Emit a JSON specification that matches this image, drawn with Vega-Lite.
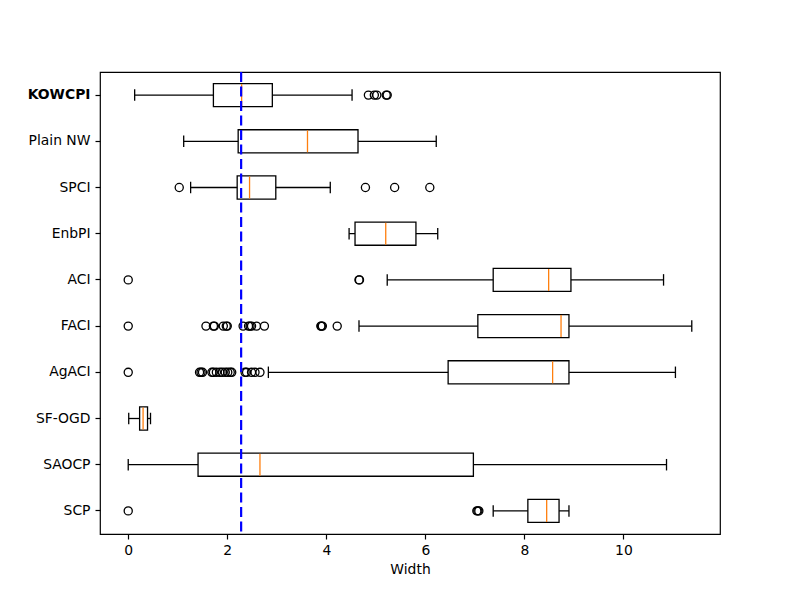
{
  "$schema": "https://vega.github.io/schema/vega-lite/v6.json",
  "width": 620,
  "height": 462,
  "autosize": {"type": "none"},
  "padding": {"left": 100, "top": 72, "right": 80, "bottom": 66},
  "background": "white",
  "config": {
    "view": {"stroke": "black", "strokeWidth": 1.2},
    "font": "DejaVu Sans",
    "axis": {
      "grid": false,
      "domain": false,
      "tickColor": "black",
      "tickSize": 5,
      "tickWidth": 1.2,
      "labelColor": "black",
      "labelFont": "DejaVu Sans",
      "labelFontSize": 13.9,
      "titleFont": "DejaVu Sans",
      "titleFontSize": 13.9,
      "titleFontWeight": "normal",
      "titleColor": "black"
    }
  },
  "datasets": {
    "stats": [
      {"method": "KOWCPI", "lo": 0.13, "q1": 1.72, "med": 2.29, "q3": 2.91, "hi": 4.52},
      {"method": "Plain NW", "lo": 1.12, "q1": 2.22, "med": 3.62, "q3": 4.64, "hi": 6.22},
      {"method": "SPCI", "lo": 1.26, "q1": 2.2, "med": 2.45, "q3": 2.98, "hi": 4.08},
      {"method": "EnbPI", "lo": 4.46, "q1": 4.58, "med": 5.2, "q3": 5.81, "hi": 6.25},
      {"method": "ACI", "lo": 5.23, "q1": 7.37, "med": 8.49, "q3": 8.94, "hi": 10.81},
      {"method": "FACI", "lo": 4.66, "q1": 7.06, "med": 8.74, "q3": 8.9, "hi": 11.38},
      {"method": "AgACI", "lo": 2.83, "q1": 6.46, "med": 8.57, "q3": 8.9, "hi": 11.05},
      {"method": "SF-OGD", "lo": 0.01, "q1": 0.23, "med": 0.3, "q3": 0.39, "hi": 0.45},
      {"method": "SAOCP", "lo": 0.0, "q1": 1.41, "med": 2.66, "q3": 6.97, "hi": 10.87},
      {"method": "SCP", "lo": 7.37, "q1": 8.07, "med": 8.45, "q3": 8.7, "hi": 8.9}
    ],
    "outliers": [
      {"method": "KOWCPI", "value": 4.85},
      {"method": "KOWCPI", "value": 4.97},
      {"method": "KOWCPI", "value": 5.02},
      {"method": "KOWCPI", "value": 5.21},
      {"method": "KOWCPI", "value": 5.23},
      {"method": "SPCI", "value": 1.03},
      {"method": "SPCI", "value": 4.79},
      {"method": "SPCI", "value": 5.38},
      {"method": "SPCI", "value": 6.09},
      {"method": "ACI", "value": 0.0},
      {"method": "ACI", "value": 4.66},
      {"method": "ACI", "value": 4.67},
      {"method": "FACI", "value": 0.0},
      {"method": "FACI", "value": 1.57},
      {"method": "FACI", "value": 1.72},
      {"method": "FACI", "value": 1.74},
      {"method": "FACI", "value": 1.92},
      {"method": "FACI", "value": 1.98},
      {"method": "FACI", "value": 2.0},
      {"method": "FACI", "value": 2.32},
      {"method": "FACI", "value": 2.43},
      {"method": "FACI", "value": 2.46},
      {"method": "FACI", "value": 2.49},
      {"method": "FACI", "value": 2.59},
      {"method": "FACI", "value": 2.75},
      {"method": "FACI", "value": 3.89},
      {"method": "FACI", "value": 3.9},
      {"method": "FACI", "value": 3.92},
      {"method": "FACI", "value": 4.22},
      {"method": "AgACI", "value": 0.0},
      {"method": "AgACI", "value": 1.44},
      {"method": "AgACI", "value": 1.47},
      {"method": "AgACI", "value": 1.5},
      {"method": "AgACI", "value": 1.69},
      {"method": "AgACI", "value": 1.72},
      {"method": "AgACI", "value": 1.78},
      {"method": "AgACI", "value": 1.85},
      {"method": "AgACI", "value": 1.9},
      {"method": "AgACI", "value": 1.96},
      {"method": "AgACI", "value": 2.01},
      {"method": "AgACI", "value": 2.06},
      {"method": "AgACI", "value": 2.09},
      {"method": "AgACI", "value": 2.36},
      {"method": "AgACI", "value": 2.39},
      {"method": "AgACI", "value": 2.49},
      {"method": "AgACI", "value": 2.56},
      {"method": "AgACI", "value": 2.66},
      {"method": "SCP", "value": 0.0},
      {"method": "SCP", "value": 7.04},
      {"method": "SCP", "value": 7.06},
      {"method": "SCP", "value": 7.08}
    ],
    "ref": [{"ref": 2.28}]
  },
  "encoding": {
    "y": {
      "field": "method",
      "type": "nominal",
      "sort": ["KOWCPI", "Plain NW", "SPCI", "EnbPI", "ACI", "FACI", "AgACI", "SF-OGD", "SAOCP", "SCP"],
      "scale": {"paddingInner": 0, "paddingOuter": 0},
      "axis": {
        "title": null,
        "labelPadding": 5,
        "labelFontWeight": {"condition": {"test": "datum.value == 'KOWCPI'", "value": "bold"}, "value": "normal"}
      }
    }
  },
  "layer": [
    {
      "data": {"name": "stats"},
      "mark": {"type": "rule", "color": "black", "strokeWidth": 1.3},
      "encoding": {
        "x": {
          "field": "lo",
          "type": "quantitative",
          "scale": {"domain": [-0.57, 11.95], "nice": false, "zero": false},
          "axis": {"title": "Width", "values": [0, 2, 4, 6, 8, 10], "labelPadding": 4, "titlePadding": 6}
        },
        "x2": {"field": "hi"}
      }
    },
    {
      "data": {"name": "stats"},
      "mark": {"type": "bar", "fill": "white", "stroke": "black", "strokeWidth": 1.3, "height": {"band": 0.5}},
      "encoding": {
        "x": {"field": "q1", "type": "quantitative"},
        "x2": {"field": "q3"}
      }
    },
    {
      "data": {"name": "stats"},
      "mark": {"type": "tick", "color": "#ff7f0e", "thickness": 1.3, "size": 22, "opacity": 1},
      "encoding": {
        "x": {"field": "med", "type": "quantitative"}
      }
    },
    {
      "data": {"name": "stats"},
      "mark": {"type": "tick", "color": "black", "thickness": 1.3, "size": 11.5, "opacity": 1},
      "encoding": {
        "x": {"field": "lo", "type": "quantitative"}
      }
    },
    {
      "data": {"name": "stats"},
      "mark": {"type": "tick", "color": "black", "thickness": 1.3, "size": 11.5, "opacity": 1},
      "encoding": {
        "x": {"field": "hi", "type": "quantitative"}
      }
    },
    {
      "data": {"name": "outliers"},
      "mark": {"type": "point", "shape": "circle", "filled": false, "stroke": "black", "strokeWidth": 1.3, "size": 66, "opacity": 1},
      "encoding": {
        "x": {"field": "value", "type": "quantitative"}
      }
    },
    {
      "data": {"name": "ref"},
      "mark": {"type": "rule", "color": "blue", "strokeWidth": 2.2, "strokeDash": [10, 4.5]},
      "encoding": {
        "x": {"field": "ref", "type": "quantitative"},
        "y": null
      }
    }
  ]
}
